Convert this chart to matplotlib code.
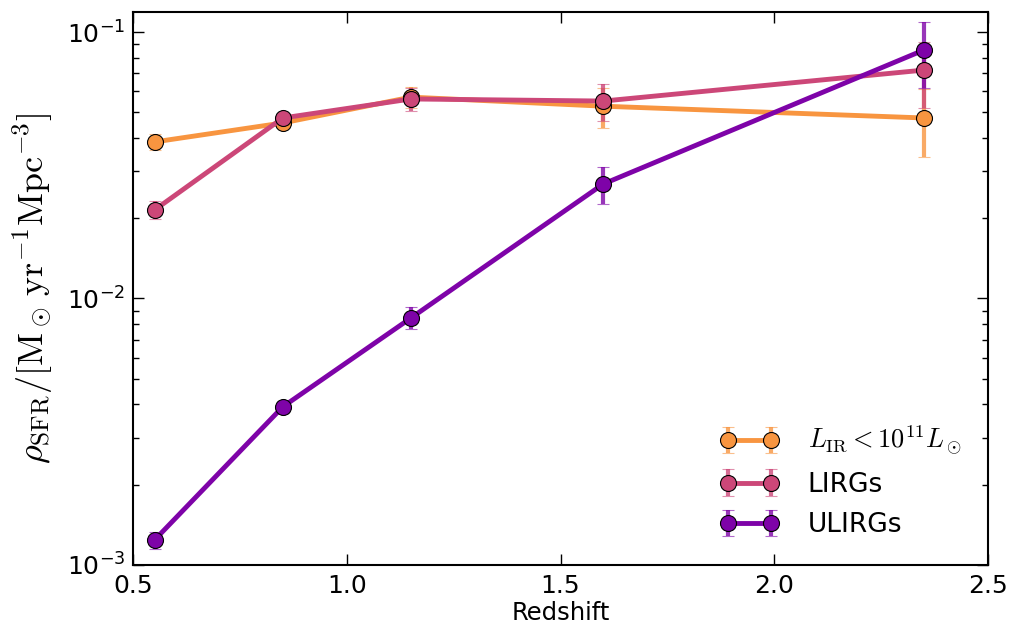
import matplotlib
matplotlib.use('Agg')
import matplotlib.pyplot as plt
import numpy as np
from matplotlib.ticker import LogLocator

z = [0.55, 0.85, 1.15, 1.6, 2.35]

low = [0.0387, 0.0456, 0.0570, 0.0527, 0.0476]
low_err = [0.0027, 0.0010, 0.0050, 0.0090, 0.0135]

lirg = [0.0215, 0.0476, 0.0561, 0.0551, 0.0720]
lirg_err = [0.0017, 0.0010, 0.0054, 0.0088, 0.0200]

ulirg = [0.00124, 0.00392, 0.00845, 0.0269, 0.0856]
ulirg_err = [0.00009, 0.00020, 0.00080, 0.0043, 0.0240]

labels = [r'$L_{\rm IR} < 10^{11} L_\odot$', 'LIRGs', 'ULIRGs']
colors = ['#f89540', '#cc4778', '#7e03a8']

plt.rcParams['font.family'] = 'DejaVu Sans'
plt.rcParams['mathtext.fontset'] = 'cm'

fig = plt.figure(figsize=(10.1, 6.31), dpi=100)
ax = fig.add_axes([0.132, 0.105, 0.846, 0.876])

for y, e, lab, c in zip([low, lirg, ulirg], [low_err, lirg_err, ulirg_err], labels, colors):
    eb = ax.errorbar(z, y, yerr=e, color=c, lw=3.5, marker='o', ms=11.5,
                     mec='k', mfc=c, mew=0.8, elinewidth=3, capsize=4,
                     capthick=2, label=lab)
    for art in eb[1]:
        art.set_alpha(0.6)
    for art in eb[2]:
        art.set_alpha(0.8)

ax.set_yscale('log')
ax.set_xlim(0.5, 2.5)
ax.set_ylim(1e-3, 0.119)
ax.set_xticks([0.5, 1.0, 1.5, 2.0, 2.5])
ax.set_xticklabels(['0.5', '1.0', '1.5', '2.0', '2.5'])
ax.set_yticks([1e-3, 1e-2, 1e-1])
ax.set_yticklabels([r'$\mathregular{10^{-3}}$', r'$\mathregular{10^{-2}}$', r'$\mathregular{10^{-1}}$'])
for t in ax.get_yticklabels():
    t.set_math_fontfamily('dejavusans')
ax.yaxis.set_minor_locator(LogLocator(base=10, subs=np.arange(2, 10)))
ax.tick_params(which='both', direction='in', top=True, right=True, labelsize=18)
ax.tick_params(which='major', length=8, width=1)
ax.tick_params(which='minor', length=4, width=1)
ax.tick_params(axis='x', pad=7)
ax.tick_params(axis='y', pad=6)
for s in ax.spines.values():
    s.set_linewidth(1.5)

ax.set_xlabel('Redshift', fontsize=17.5, labelpad=2)
ax.set_ylabel(r'$\rho_{\rm SFR}/[{\rm M}_\odot\,{\rm yr}^{-1}{\rm Mpc}^{-3}]$', fontsize=26, labelpad=8)

ax.legend(loc='lower right', numpoints=2, frameon=False, fontsize=19,
          handlelength=2.2, handletextpad=1.1, borderaxespad=0.6,
          labelspacing=0.55)

fig.savefig('out.png', dpi=100)
